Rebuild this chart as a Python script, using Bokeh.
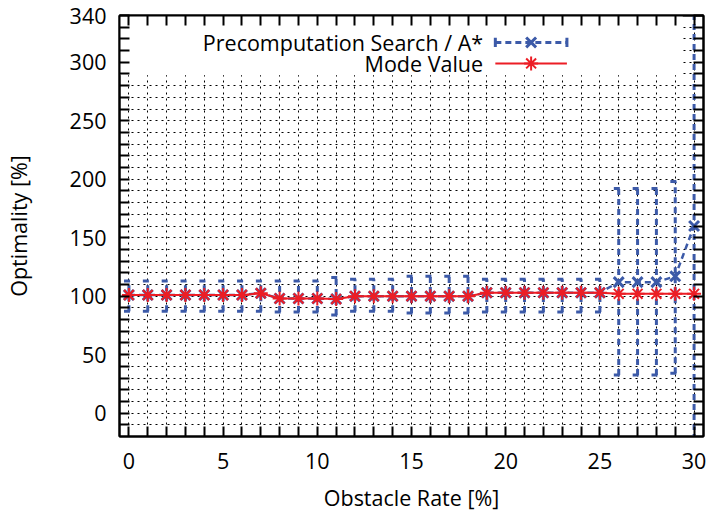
from bokeh.plotting import figure
from bokeh.models import Range1d, LinearAxis, FixedTicker, Label
from bokeh.embed import file_html
from bokeh.resources import INLINE

# ---- data -------------------------------------------------------------
obstacle_rate = list(range(31))

# Precomputation Search / A*: mean optimality with min/max spread
search_mean = [101, 101, 101, 101, 101, 101, 101, 102.5, 98, 98, 98, 97.5,
               100, 100, 100, 100, 100, 100, 100, 103, 103, 103, 103, 103,
               103, 103, 112, 112, 112, 117, 160]
search_low = [87, 87, 87, 87, 87, 87, 87, 87, 86.5, 86.5, 86.5, 84,
              87, 87, 87, 85.5, 85.5, 85.5, 85.5, 86.5, 86.5, 86.5, 86.5, 86.5,
              86.5, 86.5, 32.5, 32.5, 32.5, 34, -40]
search_high = [113, 113, 113, 113, 113, 113, 113, 113, 113, 113, 113, 116,
               114.5, 114.5, 114.5, 117, 117, 117, 117, 114.5, 114.5, 114.5, 114.5, 114.5,
               114.5, 114.5, 192, 192, 192, 198, 380]

# Mode value of the optimality
mode_value = [101, 101, 101, 101, 101, 101, 101, 102.5, 98, 98, 98, 97.5,
              100, 100, 100, 100, 100, 100, 100, 103, 103, 103, 103, 103,
              103, 103, 102, 102, 102, 102, 102]

x_ticks = list(range(0, 31))
x_tick_labels = [0, 5, 10, 15, 20, 25, 30]
y_ticks = list(range(-10, 341, 10))
y_tick_labels = [0, 50, 100, 150, 200, 250, 300, 340]

series_names = ["Precomputation Search / A*", "Mode Value"]

# ---- style ------------------------------------------------------------
BLUE = "#3c5aa8"
RED = "#ec1d25"
FONT = "Open Sans"
FS = "21.5px"
DASH = "6 4"
CAP = 0.26           # half width of the error bar caps (x units)
KEY_RIGHT = 29.4     # right edge of the opaque key area
KEY_BOTTOM = 289     # bottom edge of the opaque key area
KEY_TEXT_X = 18.8
KEY_SAMPLE = (19.45, 23.25)
KEY_ROWS = (317, 299)

p = figure(width=709, height=514, output_backend="svg", toolbar_location=None,
           x_range=Range1d(-0.5, 30.5), y_range=Range1d(-20, 340),
           min_border_left=119, min_border_right=6, min_border_top=15,
           min_border_bottom=77)
p.background_fill_color = "white"
p.border_fill_color = "white"
p.outline_line_color = "black"
p.outline_line_width = 2

# axes
def style_axis(ax, ticks, labels):
    ax.ticker = FixedTicker(ticks=ticks)
    ax.major_label_overrides = {t: (str(t) if t in labels else "") for t in ticks}
    ax.minor_tick_line_color = None
    ax.major_tick_in = 10
    ax.major_tick_out = 0
    ax.major_tick_line_width = 2
    ax.major_tick_line_color = "black"
    ax.axis_line_width = 2
    ax.axis_line_color = "black"
    ax.major_label_text_font = FONT
    ax.major_label_text_font_size = FS
    ax.major_label_text_color = "black"
    ax.axis_label_text_font = FONT
    ax.axis_label_text_font_size = FS
    ax.axis_label_text_font_style = "normal"
    ax.axis_label_text_color = "black"

style_axis(p.xaxis[0], x_ticks, x_tick_labels)
style_axis(p.yaxis[0], y_ticks, y_tick_labels)
p.xaxis[0].axis_label = "Obstacle Rate [%]"
p.yaxis[0].axis_label = "Optimality [%]"
p.xaxis[0].major_label_standoff = 16
p.yaxis[0].major_label_standoff = 13
p.xaxis[0].axis_label_standoff = 11
p.yaxis[0].axis_label_standoff = 34

top_axis = LinearAxis()
right_axis = LinearAxis()
style_axis(top_axis, x_ticks, [])
style_axis(right_axis, y_ticks, [])
for ax in (top_axis, right_axis):
    ax.major_label_text_font_size = "0px"
    ax.major_label_standoff = 0
p.add_layout(top_axis, "above")
p.add_layout(right_axis, "right")

# grid
for g, t in ((p.xgrid[0], x_ticks), (p.ygrid[0], y_ticks)):
    g.ticker = FixedTicker(ticks=t)
    g.grid_line_color = "black"
    g.grid_line_dash = "2 4"
    g.grid_line_width = 1

# opaque key area over the grid
p.quad(left=[p.x_range.start], right=[KEY_RIGHT], bottom=[KEY_BOTTOM],
       top=[p.y_range.end], fill_color="white", line_color=None)

# Precomputation Search / A*: error lines
p.segment(x0=obstacle_rate, y0=search_low, x1=obstacle_rate, y1=search_high,
          line_color=BLUE, line_width=3, line_dash=DASH)
p.segment(x0=[x - CAP for x in obstacle_rate], y0=search_high,
          x1=[x + CAP for x in obstacle_rate], y1=search_high,
          line_color=BLUE, line_width=3, line_dash=DASH)
p.segment(x0=[x - CAP for x in obstacle_rate], y0=search_low,
          x1=[x + CAP for x in obstacle_rate], y1=search_low,
          line_color=BLUE, line_width=3, line_dash=DASH)
p.line(obstacle_rate, search_mean, line_color=BLUE, line_width=2.5, line_dash=DASH)
p.scatter(obstacle_rate, search_mean, marker="x", size=14, line_width=3,
          line_color=BLUE)

# Mode value
p.line(obstacle_rate, mode_value, line_color=RED, line_width=2)
p.scatter(obstacle_rate, mode_value, marker="asterisk", size=14, line_width=2,
          line_color=RED)

# key
for name, yk in zip(series_names, KEY_ROWS):
    p.add_layout(Label(x=KEY_TEXT_X, y=yk, text=name, text_align="right",
                       text_baseline="middle", text_font=FONT,
                       text_font_size=FS, text_color="black"))
x0, x1 = KEY_SAMPLE
xm = (x0 + x1) / 2
p.line([x0, x1], [KEY_ROWS[0]] * 2, line_color=BLUE, line_width=3, line_dash=DASH)
p.segment(x0=[x0, x1], y0=[KEY_ROWS[0] - 4] * 2, x1=[x0, x1], y1=[KEY_ROWS[0] + 4] * 2,
          line_color=BLUE, line_width=3)
p.scatter([xm], [KEY_ROWS[0]], marker="x", size=14, line_width=3, line_color=BLUE)
p.line([x0, x1], [KEY_ROWS[1]] * 2, line_color=RED, line_width=2)
p.scatter([xm], [KEY_ROWS[1]], marker="asterisk", size=14, line_width=2,
          line_color=RED)

open("out.html", "w").write(file_html(p, INLINE))
